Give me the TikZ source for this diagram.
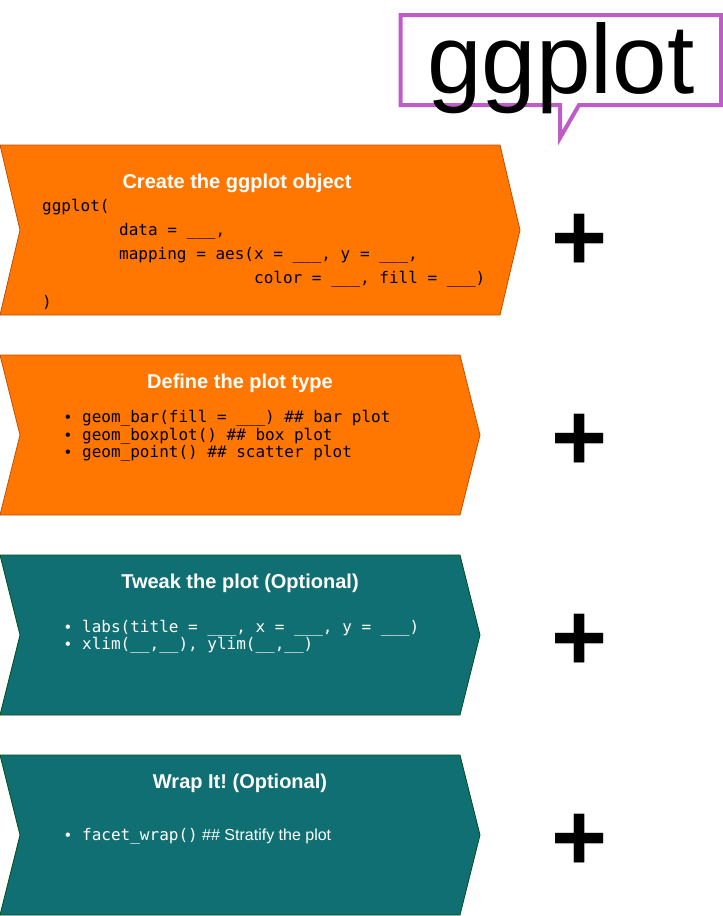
\documentclass[tikz,border=0pt]{standalone}
\usepackage{fontspec}
\setmainfont{Liberation Sans}
\setmonofont{DejaVu Sans Mono}
\definecolor{orangefill}{RGB}{255,119,0}
\definecolor{orangeline}{RGB}{196,78,0}
\definecolor{tealfill}{RGB}{16,111,115}
\definecolor{tealline}{RGB}{0,80,20}
\definecolor{calloutc}{RGB}{192,92,200}
\frenchspacing
\begin{document}
\begin{tikzpicture}[x=1pt,y=-1pt,
  title/.style={font=\fontsize{20}{24}\selectfont\bfseries, text=white, anchor=base, inner sep=0pt},
  code/.style={font=\fontsize{16}{19}\selectfont\ttfamily, anchor=base west, inner sep=0pt},
  bul/.style={font=\fontsize{16}{19}\selectfont, anchor=base, inner sep=0pt},
  plussign/.style={font=\fontsize{96}{100}\selectfont\bfseries, text=black, anchor=center, inner sep=0pt},
  orangechev/.style={fill=orangefill, draw=orangeline, line width=0.8pt, line join=miter},
  tealchev/.style={fill=tealfill, draw=tealline, line width=0.8pt, line join=miter}]
\useasboundingbox (0,0) rectangle (723,916);
\fill[white] (0,0) rectangle (723,916);

% callout
\draw[calloutc, line width=4pt, line join=miter]
  (400.5,15) -- (721,15) -- (721,105) -- (579,105) -- (560,138) -- (560,105) -- (400.5,105) -- cycle;
\node[font=\fontsize{98}{100}\selectfont, anchor=base, inner sep=0pt] (ggtitle) at (561,93) {ggplot};

% chevron 1
\path[orangechev] (0,145) -- (500,145) -- (520,230) -- (500,315) -- (0,315) -- (20,230) -- cycle;
\node[title] (t1) at (237,188) {Create the ggplot object};
\node[code] (c1a) at (42,211) {ggplot(};
\node[code] (c1b) at (119,235) {data = \_\_\_,};
\node[code] (c1c) at (119,259) {mapping = aes(x = \_\_\_, y = \_\_\_,};
\node[code] (c1d) at (254,283) {color = \_\_\_, fill = \_\_\_)};
\node[code] (c1e) at (42,307) {)};
\node[plussign] (p1) at (580,242.5) {+};

% chevron 2
\path[orangechev] (0,355) -- (460,355) -- (480,435) -- (460,515) -- (0,515) -- (20,435) -- cycle;
\node[title] (t2) at (240,388) {Define the plot type};
\node[bul] (b2a) at (68,422.5) {•};
\node[code] (c2a) at (82,422.5) {geom\_bar(fill = \_\_\_) \#\# bar plot};
\node[bul] (b2b) at (68,440) {•};
\node[code] (c2b) at (82,440) {geom\_boxplot() \#\# box plot};
\node[bul] (b2c) at (68,457.5) {•};
\node[code] (c2c) at (82,457.5) {geom\_point() \#\# scatter plot};
\node[plussign] (p2) at (580,442.5) {+};

% chevron 3
\path[tealchev] (0,555) -- (460,555) -- (480,635) -- (460,715) -- (0,715) -- (20,635) -- cycle;
\node[title] (t3) at (240,588) {Tweak the plot (Optional)};
\node[bul, text=white] (b3a) at (68,632.5) {•};
\node[code, text=white] (c3a) at (82,632.5) {labs(title = \_\_\_, x = \_\_\_, y = \_\_\_)};
\node[bul, text=white] (b3b) at (68,649.5) {•};
\node[code, text=white] (c3b) at (82,649.5) {xlim(\_\_,\_\_), ylim(\_\_,\_\_)};
\node[plussign] (p3) at (580,642.5) {+};

% chevron 4
\path[tealchev] (0,755) -- (460,755) -- (480,835) -- (460,915) -- (0,915) -- (20,835) -- cycle;
\node[title] (t4) at (240,788) {Wrap It! (Optional)};
\node[bul, text=white] (b4a) at (68,840.5) {•};
\node[code, text=white] (c4a) at (82,840.5) {facet\_wrap()\rmfamily{} \#\# Stratify the plot};
\node[plussign] (p4) at (580,842.5) {+};
\end{tikzpicture}
\end{document}
